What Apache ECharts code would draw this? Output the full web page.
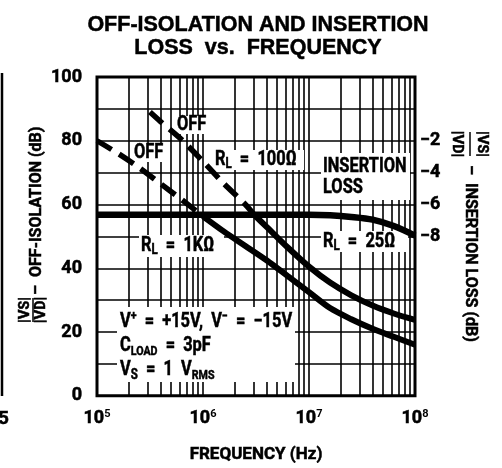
<!DOCTYPE html>
<html>
<head>
<meta charset="utf-8">
<script src="https://cdn.jsdelivr.net/npm/echarts@6/dist/echarts.min.js"></script>
<style>
  html, body { margin: 0; padding: 0; background: #fff; }
  #chart { width: 502px; height: 468px; }
</style>
</head>
<body>
<div id="chart"></div>
<script>
const FONT = 'Roboto, "Liberation Sans", sans-serif'

// lower off-isolation curve (dB), dashed until it meets the insertion loss line
const freqA = [1e5, 1.58e5, 2.51e5, 3.98e5, 6.31e5, 1e6, 1.58e6, 2.51e6, 3.98e6, 6.31e6, 1e7, 1.58e7, 2.51e7, 3.98e7, 6.31e7, 1e8]
const offIsoA = [80, 76, 71.5, 66.5, 61.5, 56.3, 51.5, 47, 42.5, 37.5, 32.5, 27.5, 24, 21, 18.5, 16]
const splitA = 5

// upper off-isolation curve (dB)
const freqB = [3.16e5, 3.98e5, 6.31e5, 1e6, 1.58e6, 2.51e6, 3.09e6, 3.98e6, 6.31e6, 1e7, 1.58e7, 2.51e7, 3.98e7, 6.31e7, 1e8]
const offIsoB = [89, 86, 80.3, 73.5, 66.5, 60, 56.5, 53, 46.5, 40.5, 35.5, 31.5, 28.3, 25.8, 23.8]
const splitB = 6

// insertion loss, RL = 25 ohm (dB, right axis)
const freqIL = [1e5, 1e6, 1e7, 1.58e7, 2.51e7, 3.98e7, 6.31e7, 1e8]
const insertionLoss = [-6.65, -6.65, -6.65, -6.68, -6.78, -6.95, -7.35, -7.95]

const leftTicks = [0, 20, 40, 60, 80, 100]
const rightTicks = [-2, -4, -6, -8]

// minor vertical grid lines, 2..9 in each decade
const minorFreqs = []
for (const dec of [1e5, 1e6, 1e7]) {
  for (let m = 2; m <= 9; m++) minorFreqs.push(m * dec)
}

const pairs = (xs, ys) => xs.map((x, i) => [x, ys[i]])

const chart = echarts.init(document.getElementById('chart'), null, { renderer: 'canvas' })

// a thin outline makes the text a bit heavier, closer to the printed figure
const txt = (size) => ({ fontFamily: FONT, fontWeight: 'bold', fontSize: size, fill: '#000', stroke: '#000', lineWidth: 0.5 })
const rich = {
  s: { fontFamily: FONT, fontWeight: 'bold', fontSize: 14, fill: '#000', verticalAlign: 'bottom', lineHeight: 13 },
  ss: { fontFamily: FONT, fontWeight: 'bold', fontSize: 13, fill: '#000', verticalAlign: 'bottom', lineHeight: 13 },
  p: { fontFamily: FONT, fontWeight: 'bold', fontSize: 13, fill: '#000', verticalAlign: 'top', lineHeight: 12 },
}
const heavy = { textBorderColor: '#000', textBorderWidth: 0.5 }

// white patch that hides the grid behind a label
const box = (x, y, w, h) => ({
  type: 'rect', z: 2, silent: true,
  shape: { x, y, width: w, height: h },
  style: { fill: '#fff' },
})

// label inside the plot; no condensed face is installed, so squeeze it
const note = (x, y, text, extra) => ({
  type: 'text', x, y, z: 2.5, scaleX: 0.82, silent: true,
  style: Object.assign(txt(20), {
    text, rich, lineHeight: 22, align: 'left', verticalAlign: 'middle',
  }, extra || {}),
})

const lineStyleBase = { color: '#000', width: 6, cap: 'butt' }

chart.setOption({
  animation: false,
  backgroundColor: '#fff',
  title: {
    text: 'OFF-ISOLATION AND INSERTION\nLOSS  vs.  FREQUENCY',
    left: 253,
    top: 9,
    textAlign: 'center',
    textStyle: Object.assign({
      fontFamily: '"Liberation Sans", Arial, sans-serif',
      fontWeight: 'bold',
      fontSize: 21.5,
      lineHeight: 23,
      color: '#000',
    }, heavy),
  },
  grid: {
    left: 97, right: 87, top: 77, bottom: 72,
    show: true, borderColor: '#000', borderWidth: 3,
  },
  xAxis: {
    type: 'log',
    logBase: 10,
    min: 1e5,
    max: 1e8,
    axisLine: { show: false },
    axisTick: { show: false },
    splitLine: { show: true, lineStyle: { color: '#000', width: 1.6 } },
    axisLabel: {
      margin: 13,
      formatter: (v) => '{b|10}{e|' + Math.round(Math.log10(v)) + '}',
      rich: {
        b: Object.assign({ fontFamily: FONT, fontWeight: 'bold', fontSize: 18, color: '#000', lineHeight: 20 }, heavy),
        e: { fontFamily: FONT, fontWeight: 'bold', fontSize: 11, color: '#000', verticalAlign: 'top', lineHeight: 12 },
      },
    },
    name: 'FREQUENCY (Hz)',
    nameLocation: 'middle',
    nameGap: 50,
    nameTextStyle: Object.assign({ fontFamily: FONT, fontWeight: 'bold', fontSize: 17, color: '#000' }, heavy),
  },
  yAxis: [
    {
      type: 'value', min: 0, max: 100, interval: 10,
      axisLine: { show: false },
      axisTick: { show: false },
      splitLine: { show: true, lineStyle: { color: '#000', width: 1.6 } },
      axisLabel: Object.assign({
        margin: 15,
        formatter: (v) => (leftTicks.includes(v) ? String(v) : ''),
        fontFamily: FONT, fontWeight: 'bold', fontSize: 18, color: '#000',
      }, heavy),
    },
    {
      type: 'value', min: -18, max: 2, interval: 2, position: 'right',
      axisLine: { show: false },
      axisTick: { show: false },
      splitLine: { show: false },
      axisLabel: Object.assign({
        margin: 5,
        formatter: (v) => (rightTicks.includes(v) ? '\u2212' + Math.abs(v) : ''),
        fontFamily: FONT, fontWeight: 'bold', fontSize: 18, color: '#000',
      }, heavy),
    },
  ],
  series: [
    {
      // minor log grid (markLine has its own z, keep it under the label patches)
      type: 'line', data: [], z: 1, silent: true,
      markLine: {
        z: 1, silent: true, symbol: 'none', label: { show: false },
        lineStyle: { color: '#000', width: 1.6, type: 'solid' },
        data: minorFreqs.map((f) => ({ xAxis: f })),
      },
    },
    {
      name: 'Insertion loss', type: 'line', yAxisIndex: 1, z: 3,
      data: pairs(freqIL, insertionLoss), smooth: 0.3, symbol: 'none',
      lineStyle: Object.assign({}, lineStyleBase, { width: 6.5 }),
    },
    {
      name: 'Off A dashed', type: 'line', z: 3,
      data: pairs(freqA, offIsoA).slice(0, splitA + 1), smooth: 0.3, symbol: 'none',
      lineStyle: Object.assign({}, lineStyleBase, { width: 5.5, type: [17, 9] }),
    },
    {
      name: 'Off A', type: 'line', z: 3,
      data: pairs(freqA, offIsoA).slice(splitA), smooth: 0.3, symbol: 'none',
      lineStyle: lineStyleBase,
    },
    {
      name: 'Off B dashed', type: 'line', z: 3,
      data: pairs(freqB, offIsoB).slice(0, splitB + 1), smooth: 0.3, symbol: 'none',
      lineStyle: Object.assign({}, lineStyleBase, { width: 5.5, type: [17, 9] }),
    },
    {
      name: 'Off B', type: 'line', z: 3,
      data: pairs(freqB, offIsoB).slice(splitB), smooth: 0.3, symbol: 'none',
      lineStyle: lineStyleBase,
    },
  ],
  graphic: [
    box(175, 116, 37, 18), note(177, 125, 'OFF'),
    box(132, 144, 36, 18), note(134, 153, 'OFF'),
    box(213, 150, 91, 20), note(215, 160, 'R{s|L}  =  100Ω'),
    box(321, 153, 89, 47), note(323, 177, 'INSERTION\nLOSS', { lineHeight: 21 }),
    box(139, 235, 85, 22), note(141, 246, 'R{s|L}  =  1KΩ'),
    box(321, 231, 87, 21), note(323, 242, 'R{s|L}  =  25Ω'),
    box(117, 307, 178, 75),
    note(120, 310, 'V{p|+}  =  +15V,  V{p|\u2212}  =  \u221215V\nC{ss|LOAD}  =  3pF\nV{s|S}  =  1  V{ss|RMS}',
      { verticalAlign: 'top', lineHeight: 24 }),
    // left axis name, reads bottom to top
    {
      type: 'group', x: 37, y: 200, rotation: Math.PI / 2,
      children: [
        { type: 'text', x: -110, y: -12, style: Object.assign(txt(15), { text: '|V{s|S}|', rich, align: 'center', verticalAlign: 'middle' }) },
        { type: 'line', shape: { x1: -122, y1: -4, x2: -98, y2: -4 }, style: { stroke: '#000', lineWidth: 1.5 } },
        { type: 'text', x: -110, y: 4, style: Object.assign(txt(15), { text: '|V{s|D}|', rich, align: 'center', verticalAlign: 'middle' }) },
        { type: 'text', x: -95, y: 0, style: Object.assign(txt(16), { text: '\u2013  OFF-ISOLATION (dB)', align: 'left', verticalAlign: 'middle' }) },
      ],
    },
    // right axis name, reads top to bottom
    {
      type: 'group', x: 470, y: 200, rotation: -Math.PI / 2,
      children: [
        { type: 'text', x: -56, y: -12, style: Object.assign(txt(15), { text: '|V{s|S}|', rich, align: 'center', verticalAlign: 'middle' }) },
        { type: 'line', shape: { x1: -68, y1: 0, x2: -44, y2: 0 }, style: { stroke: '#000', lineWidth: 1.5 } },
        { type: 'text', x: -56, y: 13, style: Object.assign(txt(15), { text: '|V{s|D}|', rich, align: 'center', verticalAlign: 'middle' }) },
        { type: 'text', x: -35, y: 0, style: Object.assign(txt(16), { text: '\u2013  INSERTION LOSS (dB)', align: 'left', verticalAlign: 'middle' }) },
      ],
    },
    // edge of the neighbouring chart
    { type: 'line', shape: { x1: 2, y1: 73, x2: 2, y2: 396 }, style: { stroke: '#000', lineWidth: 2.5 } },
    { type: 'text', x: -2, y: 419, style: Object.assign(txt(19), { text: '5', align: 'left', verticalAlign: 'middle' }) },
  ],
})

window.addEventListener('resize', () => chart.resize())
</script>
</body>
</html>
